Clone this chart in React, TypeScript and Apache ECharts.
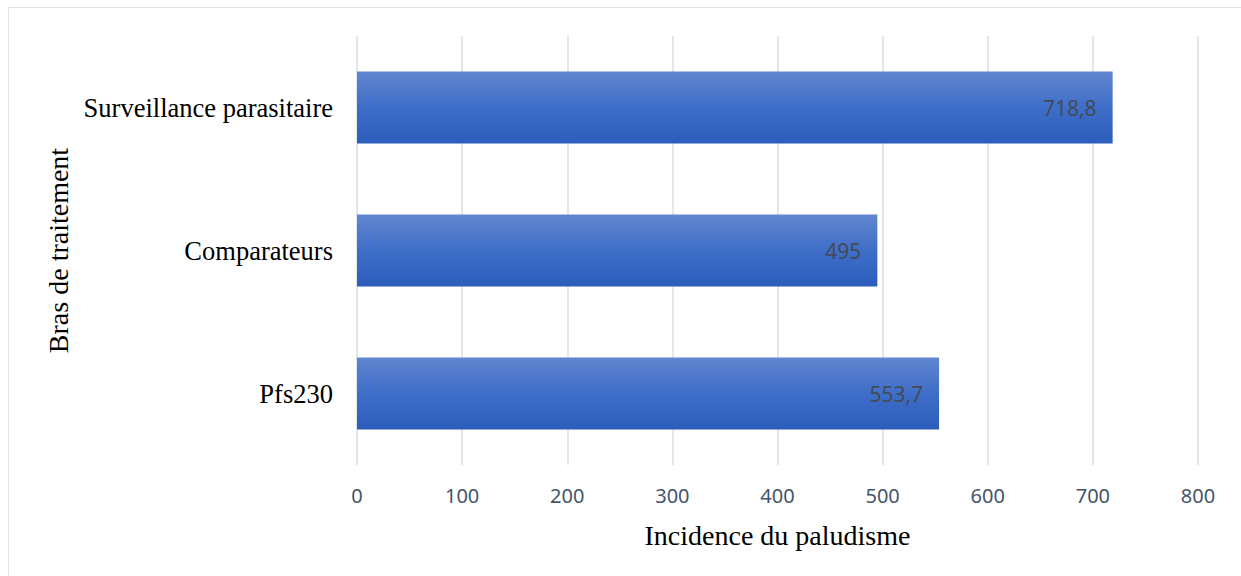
import React, { useEffect, useRef } from "react";
import * as echarts from "echarts";

const categories = ["Pfs230", "Comparateurs", "Surveillance parasitaire"];
const values = [553.7, 495, 718.8];
const valueLabels = ["553,7", "495", "718,8"];
const xTicks = [0, 100, 200, 300, 400, 500, 600, 700, 800];

export default function App() {
  const ref = useRef<HTMLDivElement>(null);
  useEffect(() => {
    if (!ref.current) return;
    const chart = echarts.init(ref.current, null, { renderer: "svg" });
    chart.setOption({
      animation: false,
      backgroundColor: "#ffffff",
      graphic: [
        {
          type: "rect",
          shape: { x: 8.5, y: 7.5, width: 1260, height: 600 },
          style: { fill: "none", stroke: "#dfe3e8", lineWidth: 1 },
          silent: true,
        },
      ],
      grid: { left: 357, right: 43, top: 36, bottom: 111, containLabel: false },
      xAxis: {
        type: "value",
        min: xTicks[0],
        max: xTicks[xTicks.length - 1],
        interval: 100,
        axisLine: { show: false },
        axisTick: { show: false },
        splitLine: { show: true, lineStyle: { color: "#e3e6ea", width: 2 } },
        axisLabel: {
          color: "#44546a",
          fontFamily: "Noto Sans",
          fontSize: 20,
          margin: 20,
        },
        name: "Incidence du paludisme",
        nameLocation: "middle",
        nameGap: 56,
        nameTextStyle: { color: "#000", fontFamily: "Liberation Serif", fontSize: 28 },
      },
      yAxis: {
        type: "category",
        data: categories,
        axisLine: { show: false },
        axisTick: { show: false },
        axisLabel: {
          color: "#000",
          fontFamily: "Liberation Serif",
          fontSize: 26.5,
          margin: 24,
        },
        name: "Bras de traitement",
        nameLocation: "middle",
        nameGap: 280,
        nameRotate: 90,
        nameTextStyle: { color: "#000", fontFamily: "Liberation Serif", fontSize: 28 },
      },
      series: [
        {
          type: "bar",
          data: values,
          barWidth: "50.5%",
          itemStyle: {
            color: new echarts.graphic.LinearGradient(0, 0, 0, 1, [
              { offset: 0, color: "#6286d0" },
              { offset: 0.5, color: "#3e6ec8" },
              { offset: 1, color: "#2d5dbb" },
            ]),
          },
          label: {
            show: true,
            position: "insideRight",
            distance: 16,
            color: "#434b58",
            fontFamily: "Noto Sans",
            fontSize: 21,
            formatter: (p: any) => valueLabels[p.dataIndex],
          },
        },
      ],
    });
    return () => chart.dispose();
  }, []);
  return (
    <div
      ref={ref}
      style={{ position: "fixed", left: 0, top: 0, width: 1241, height: 576 }}
    />
  );
}
